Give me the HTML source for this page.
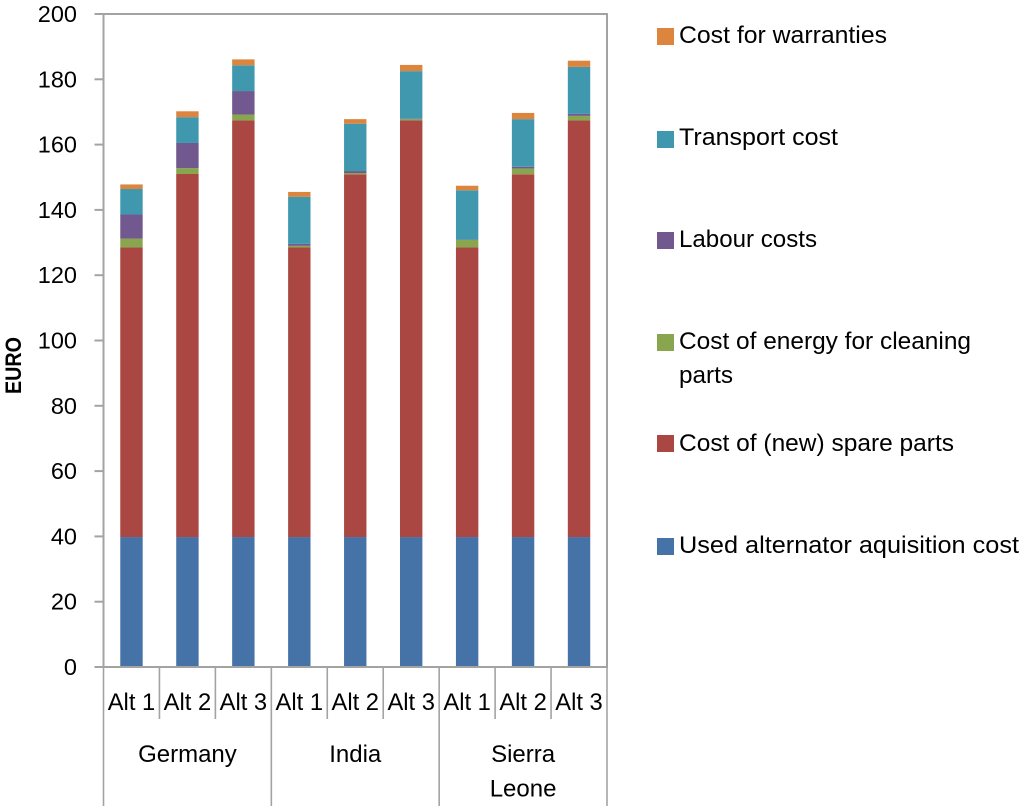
<!DOCTYPE html>
<html>
<head>
<meta charset="utf-8">
<style>
html,body{margin:0;padding:0;background:#fff;width:1024px;height:811px;overflow:hidden}
svg{display:block}
text{font-family:"Liberation Sans",sans-serif;fill:#000}
</style>
</head>
<body>
<svg id="chart" width="1024" height="811" viewBox="0 0 1024 811" xmlns="http://www.w3.org/2000/svg">
  <defs>
    <filter id="soft"><feGaussianBlur stdDeviation="0.35"/></filter>
    <filter id="softText"><feGaussianBlur stdDeviation="0.25"/></filter>
  </defs>
  <g id="plot" filter="url(#soft)"></g>
  <g id="labels" filter="url(#softText)"></g>
  <text transform="translate(21,394) rotate(-90)" font-size="22" font-weight="bold" textLength="57" lengthAdjust="spacingAndGlyphs" filter="url(#softText)">EURO</text>
  <g font-size="24" filter="url(#softText)">
    <g>
      <rect x="657" y="28" width="17" height="17" fill="#DD843C"/>
      <text x="679" y="43" textLength="208" lengthAdjust="spacingAndGlyphs">Cost for warranties</text>
    </g>
    <g>
      <rect x="657" y="131" width="17" height="17" fill="#4198AF"/>
      <text x="679" y="145" textLength="159" lengthAdjust="spacingAndGlyphs">Transport cost</text>
    </g>
    <g>
      <rect x="657" y="232" width="17" height="17" fill="#71588F"/>
      <text x="679" y="247" textLength="138" lengthAdjust="spacingAndGlyphs">Labour costs</text>
    </g>
    <g>
      <rect x="657" y="334" width="17" height="17" fill="#89A54E"/>
      <text x="679" y="349" textLength="292" lengthAdjust="spacingAndGlyphs">Cost of energy for cleaning</text>
      <text x="679" y="383" textLength="54" lengthAdjust="spacingAndGlyphs">parts</text>
    </g>
    <g>
      <rect x="657" y="435" width="17" height="17" fill="#AA4643"/>
      <text x="679" y="451" textLength="275" lengthAdjust="spacingAndGlyphs">Cost of (new) spare parts</text>
    </g>
    <g>
      <rect x="657" y="538" width="17" height="17" fill="#4572A7"/>
      <text x="679" y="553" textLength="340" lengthAdjust="spacingAndGlyphs">Used alternator aquisition cost</text>
    </g>
  </g>
</svg>
<script>
var altLabels = ['Alt 1','Alt 2','Alt 3','Alt 1','Alt 2','Alt 3','Alt 1','Alt 2','Alt 3'];
var groupLabels = [['Germany'],['India'],['Sierra','Leone']];
var yTicks = [0,20,40,60,80,100,120,140,160,180,200];
var seriesNames = ['alternator','spare-parts','energy','labour','transport','warranties'];
var seriesColors = ['#4572A7','#AA4643','#89A54E','#71588F','#4198AF','#DD843C'];
var alternator = [39.8,39.8,39.8,39.8,39.8,39.8,39.8,39.8,39.8];
var spareParts = [88.7,111.2,127.6,88.7,111.1,127.6,88.7,111.1,127.6];
var energy     = [2.7,1.8,1.8,0.5,0.4,0.4,2.3,1.8,1.4];
var labour     = [7.4,7.7,7.2,0.6,0.6,0.1,0.1,0.5,0.6];
var transport  = [7.8,7.9,7.9,14.4,14.5,14.6,15.1,14.6,14.4];
var warranties = [1.4,1.8,1.8,1.5,1.4,1.9,1.4,1.9,1.9];
var seriesValues = [alternator,spareParts,energy,labour,transport,warranties];

var NS = 'http://www.w3.org/2000/svg';
var plot = document.getElementById('plot');
var labels = document.getElementById('labels');
var left = 103.5, right = 607, top_ = 14, bottom = 667, yMax = 200;
var axisColor = '#A3A3A3';
function yScale(v){ return bottom - (bottom - top_) * v / yMax; }
function slot(){ return (right - left) / altLabels.length; }
function xEdge(i){ return left + slot() * i; }
function xCenter(i){ return xEdge(i) + slot() / 2; }
function make(tag, attrs, parent){
  var el = document.createElementNS(NS, tag);
  for (var k in attrs) el.setAttribute(k, attrs[k]);
  parent.appendChild(el);
  return el;
}
function line(x1,y1,x2,y2,w){
  return make('line',{x1:x1,y1:y1,x2:x2,y2:y2,stroke:axisColor,'stroke-width':w},plot);
}

// bars
var barWidth = 22.4;
seriesValues.forEach(function(vals,s){
  var sName = seriesNames[s];
  vals.forEach(function(v,i){
    var base = 0;
    for (var p = 0; p < s; p++) base += seriesValues[p][i];
    var r = make('rect',{x:xCenter(i)-barWidth/2,y:yScale(base+v),width:barWidth,height:yScale(base)-yScale(base+v),fill:seriesColors[s]},plot);
    
    
  });
});

// plot frame
var frame = make('rect',{x:left,y:top_,width:right-left,height:bottom-top_,fill:'none',stroke:axisColor,'stroke-width':2},plot);



// y ticks and labels
yTicks.forEach(function(t){
  var tick = line(94.5,yScale(t),left,yScale(t),2);
  
  
  var lab = make('text',{x:77,y:yScale(t)+8,'text-anchor':'end','font-size':23.5},labels);
  lab.textContent = t;
  
  
});

// x category separators and labels
altLabels.forEach(function(a,i){
  var lab = make('text',{x:xCenter(i),y:710,'text-anchor':'middle','font-size':24,textLength:47.5,lengthAdjust:'spacingAndGlyphs'},labels);
  lab.textContent = a;
  
  
});
for (var i = 0; i <= altLabels.length; i++){
  var isGroup = i % 3 === 0;
  var sep = line(xEdge(i),bottom,xEdge(i),isGroup ? 806 : 719,1.6);
  
  
}
groupLabels.forEach(function(g,gi){
  g.forEach(function(txt,li){
    var lab = make('text',{x:xCenter(gi*3+1),y:762+li*34.5,'text-anchor':'middle','font-size':24},labels);
    lab.textContent = txt;
    
    
  });
});
</script>
</body>
</html>
